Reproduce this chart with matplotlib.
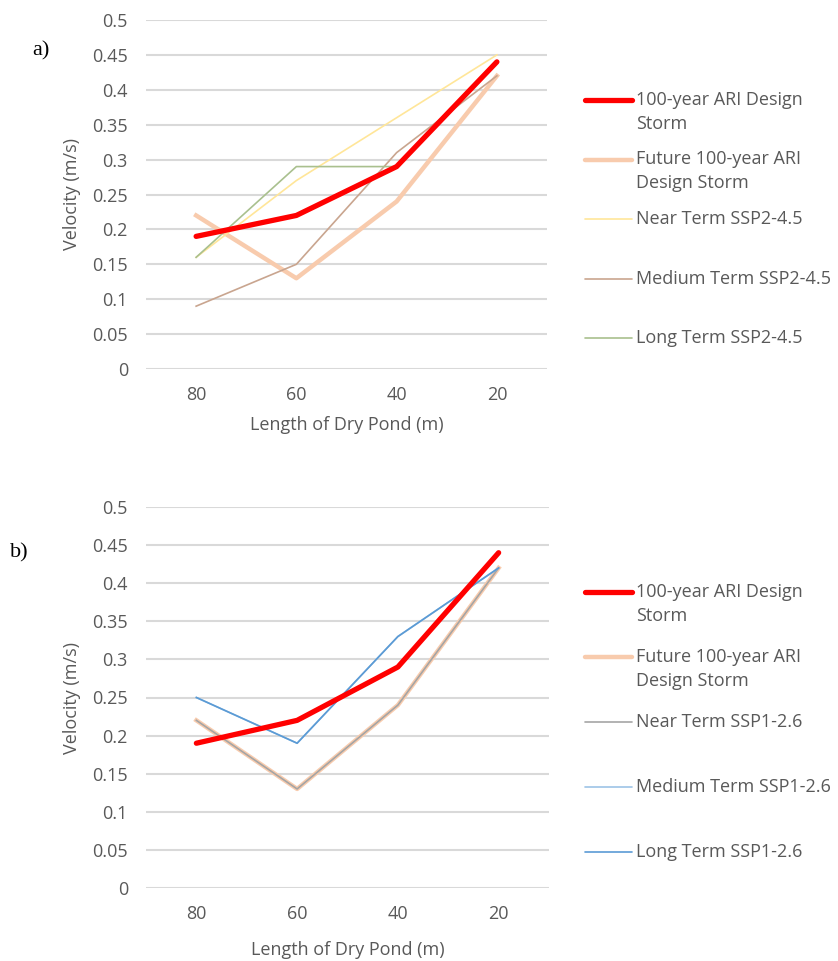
import matplotlib.pyplot as plt
from matplotlib.lines import Line2D

# data
lengths = ["80", "60", "40", "20"]

design_storm = [0.19, 0.22, 0.29, 0.44]
future_storm = [0.22, 0.13, 0.24, 0.42]

# panel a) SSP2-4.5
near_245 = [0.16, 0.27, 0.36, 0.45]
medium_245 = [0.09, 0.15, 0.31, 0.42]
long_245 = [0.16, 0.29, 0.29, 0.44]

# panel b) SSP1-2.6
near_126 = [0.22, 0.13, 0.24, 0.42]
medium_126 = [0.25, 0.19, 0.33, 0.42]
long_126 = [0.25, 0.19, 0.33, 0.42]

yticks = [0, 0.05, 0.1, 0.15, 0.2, 0.25, 0.3, 0.35, 0.4, 0.45, 0.5]

W, H = 838, 961
TXT = "#595959"
GRID = "#d9d9d9"
FS = 13
plt.rcParams["font.family"] = ["Open Sans", "DejaVu Sans"]

fig = plt.figure(figsize=(W / 100, H / 100), dpi=100)


def px_axes(x0, y0, x1, y1):
    # axes from pixel box (top-left origin)
    return fig.add_axes([x0 / W, 1 - y1 / H, (x1 - x0) / W, (y1 - y0) / H])


def setup(ax, xlabel_pad):
    ax.set_xlim(-0.5, len(lengths) - 0.5)
    ax.set_ylim(0, 0.5)
    ax.set_yticks(yticks)
    ax.set_yticklabels([f"{v:g}" for v in yticks])
    ax.set_xticks(range(len(lengths)))
    ax.set_xticklabels(lengths)
    for s in ax.spines.values():
        s.set_visible(False)
    ax.tick_params(length=0, labelsize=FS, colors=TXT)
    ax.tick_params(axis="y", pad=13)
    ax.tick_params(axis="x", pad=12)
    ax.grid(axis="y", color=GRID, lw=1.5)
    ax.set_axisbelow(True)
    ax.set_ylabel("Velocity (m/s)", fontsize=FS, color=TXT, labelpad=8)
    ax.set_xlabel("Length of Dry Pond (m)", fontsize=FS, color=TXT, labelpad=xlabel_pad)


def legend(y_first, entries, step):
    for i, (label, color, lw) in enumerate(entries):
        y = y_first + i * step
        fig.add_artist(Line2D([585 / W, 632 / W], [1 - y / H, 1 - y / H], color=color, lw=lw,
                              solid_capstyle="round", transform=fig.transFigure))
        for j, line in enumerate(label.split("\n")):
            fig.text(636 / W, 1 - (y + j * 24) / H, line, fontsize=FS, color=TXT,
                     va="center")


x = list(range(len(lengths)))

# panel a
ax1 = px_axes(146, 20, 547, 369)
setup(ax1, 9)
ax1.plot(x, future_storm, color="#f8cbad", lw=3.2)
ax1.plot(x, near_245, color="#ffe699", lw=1.2)
ax1.plot(x, medium_245, color="#c9a58f", lw=1.2)
ax1.plot(x, long_245, color="#a9c08e", lw=1.2)
ax1.plot(x, design_storm, color="#ff0000", lw=3.8, solid_capstyle="round")
fig.text(32 / W, 1 - 51 / H, "a)", fontsize=16, family="Liberation Serif", va="center")

legend(100, [
    ("100-year ARI Design\nStorm", "#ff0000", 3.8),
    ("Future 100-year ARI\nDesign Storm", "#f8cbad", 3.2),
    ("Near Term SSP2-4.5", "#ffe699", 1.2),
    ("Medium Term SSP2-4.5", "#c9a58f", 1.2),
    ("Long Term SSP2-4.5", "#a9c08e", 1.2),
], step=59.5)

# panel b
ax2 = px_axes(146, 507, 549, 888)
setup(ax2, 13)
ax2.plot(x, future_storm, color="#f8cbad", lw=3.2)
ax2.plot(x, near_126, color="#a5a5a5", lw=1.2)
ax2.plot(x, medium_126, color="#9dc3e6", lw=1.2)
ax2.plot(x, long_126, color="#5b9bd5", lw=1.2)
ax2.plot(x, design_storm, color="#ff0000", lw=3.8, solid_capstyle="round")
fig.text(10 / W, 1 - 553 / H, "b)", fontsize=16, family="Liberation Serif", va="center")

legend(592, [
    ("100-year ARI Design\nStorm", "#ff0000", 3.8),
    ("Future 100-year ARI\nDesign Storm", "#f8cbad", 3.2),
    ("Near Term SSP1-2.6", "#a5a5a5", 1.2),
    ("Medium Term SSP1-2.6", "#9dc3e6", 1.2),
    ("Long Term SSP1-2.6", "#5b9bd5", 1.2),
], step=65)

fig.savefig("out.png", dpi=100)
